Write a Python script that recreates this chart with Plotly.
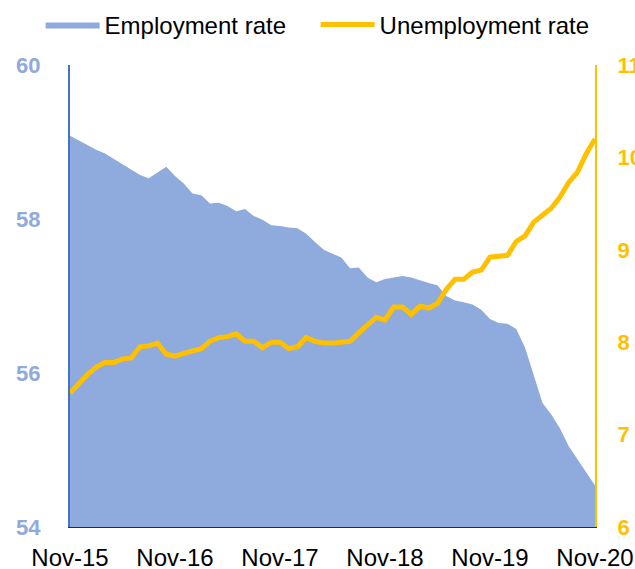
import plotly.graph_objects as go

months = list(range(61))
tick_vals = [0, 12, 24, 36, 48, 60]
tick_text = ["Nov-15", "Nov-16", "Nov-17", "Nov-18", "Nov-19", "Nov-20"]

employment = [59.08, 59.02, 58.95, 58.90, 58.85, 58.78, 58.72, 58.65, 58.57, 58.53,
              58.60, 58.68, 58.56, 58.46, 58.33, 58.31, 58.20, 58.21, 58.17, 58.10,
              58.13, 58.04, 57.99, 57.92, 57.91, 57.89, 57.88, 57.81, 57.70, 57.60,
              57.55, 57.50, 57.36, 57.37, 57.24, 57.18, 57.22, 57.24, 57.26, 57.24,
              57.20, 57.17, 57.14, 57.00, 56.94, 56.92, 56.89, 56.82, 56.70, 56.65,
              56.64, 56.57, 56.33, 55.98, 55.61, 55.46, 55.28, 55.05, 54.88, 54.71,
              54.54]

unemployment = [7.45, 7.55, 7.65, 7.73, 7.78, 7.78, 7.82, 7.83, 7.95, 7.96,
                7.99, 7.87, 7.85, 7.88, 7.91, 7.93, 8.01, 8.05, 8.06, 8.09,
                8.01, 8.01, 7.94, 8.00, 8.00, 7.93, 7.95, 8.05, 8.01, 7.99,
                7.99, 8.00, 8.01, 8.10, 8.19, 8.27, 8.24, 8.38, 8.38, 8.30,
                8.39, 8.37, 8.42, 8.57, 8.68, 8.68, 8.76, 8.78, 8.92, 8.93,
                8.94, 9.09, 9.15, 9.30, 9.37, 9.45, 9.57, 9.73, 9.84, 10.04,
                10.20]

FONT = "Liberation Sans, Arial, sans-serif"

fig = go.Figure()
fig.add_trace(go.Scatter(
    x=months, y=employment, name="Employment rate", mode="lines",
    line=dict(width=0, color="#8FAADC"), fill="tozeroy", fillcolor="#8FAADC",
    yaxis="y"))
fig.add_trace(go.Scatter(
    x=months, y=unemployment, name="Unemployment rate", mode="lines",
    line=dict(width=5, color="#FFC000"), yaxis="y2"))

fig.update_layout(
    width=635, height=569,
    margin=dict(l=70, r=40, t=65, b=42, autoexpand=False),
    paper_bgcolor="white", plot_bgcolor="white",
    font=dict(family=FONT, size=24, color="black"),
    showlegend=True,
    legend=dict(orientation="h", x=-0.056, xanchor="left", y=1.0866, yanchor="middle",
                font=dict(size=24, color="black"), itemwidth=54, entrywidth=206,
                tracegroupgap=0, bgcolor="rgba(0,0,0,0)"),
    xaxis=dict(range=[0, 60], tickvals=tick_vals, ticktext=tick_text,
               showgrid=False, zeroline=False, showline=True, linecolor="#1F2A44",
               linewidth=1, ticks="", automargin=False, ticklabelstandoff=9,
               tickfont=dict(size=24, color="black")),
    yaxis=dict(range=[54, 60], dtick=2, showgrid=False, zeroline=False,
               showline=True, linecolor="#4472C4", linewidth=2, ticks="",
               ticklabelstandoff=23, automargin=False,
               tickfont=dict(size=22, color="#8FAADC", family=FONT, weight="bold")),
    yaxis2=dict(range=[6, 11], dtick=1, overlaying="y", side="right",
                showgrid=False, zeroline=False, showline=True, linecolor="#FFC000",
                linewidth=2, ticks="", ticklabelstandoff=16, automargin=False,
                tickfont=dict(size=22, color="#FFC000", family=FONT, weight="bold")),
)

fig.write_html(
    "out.html",
    config={"displayModeBar": False},
    post_script="document.body.style.margin='0';document.body.style.overflow='hidden';",
)
